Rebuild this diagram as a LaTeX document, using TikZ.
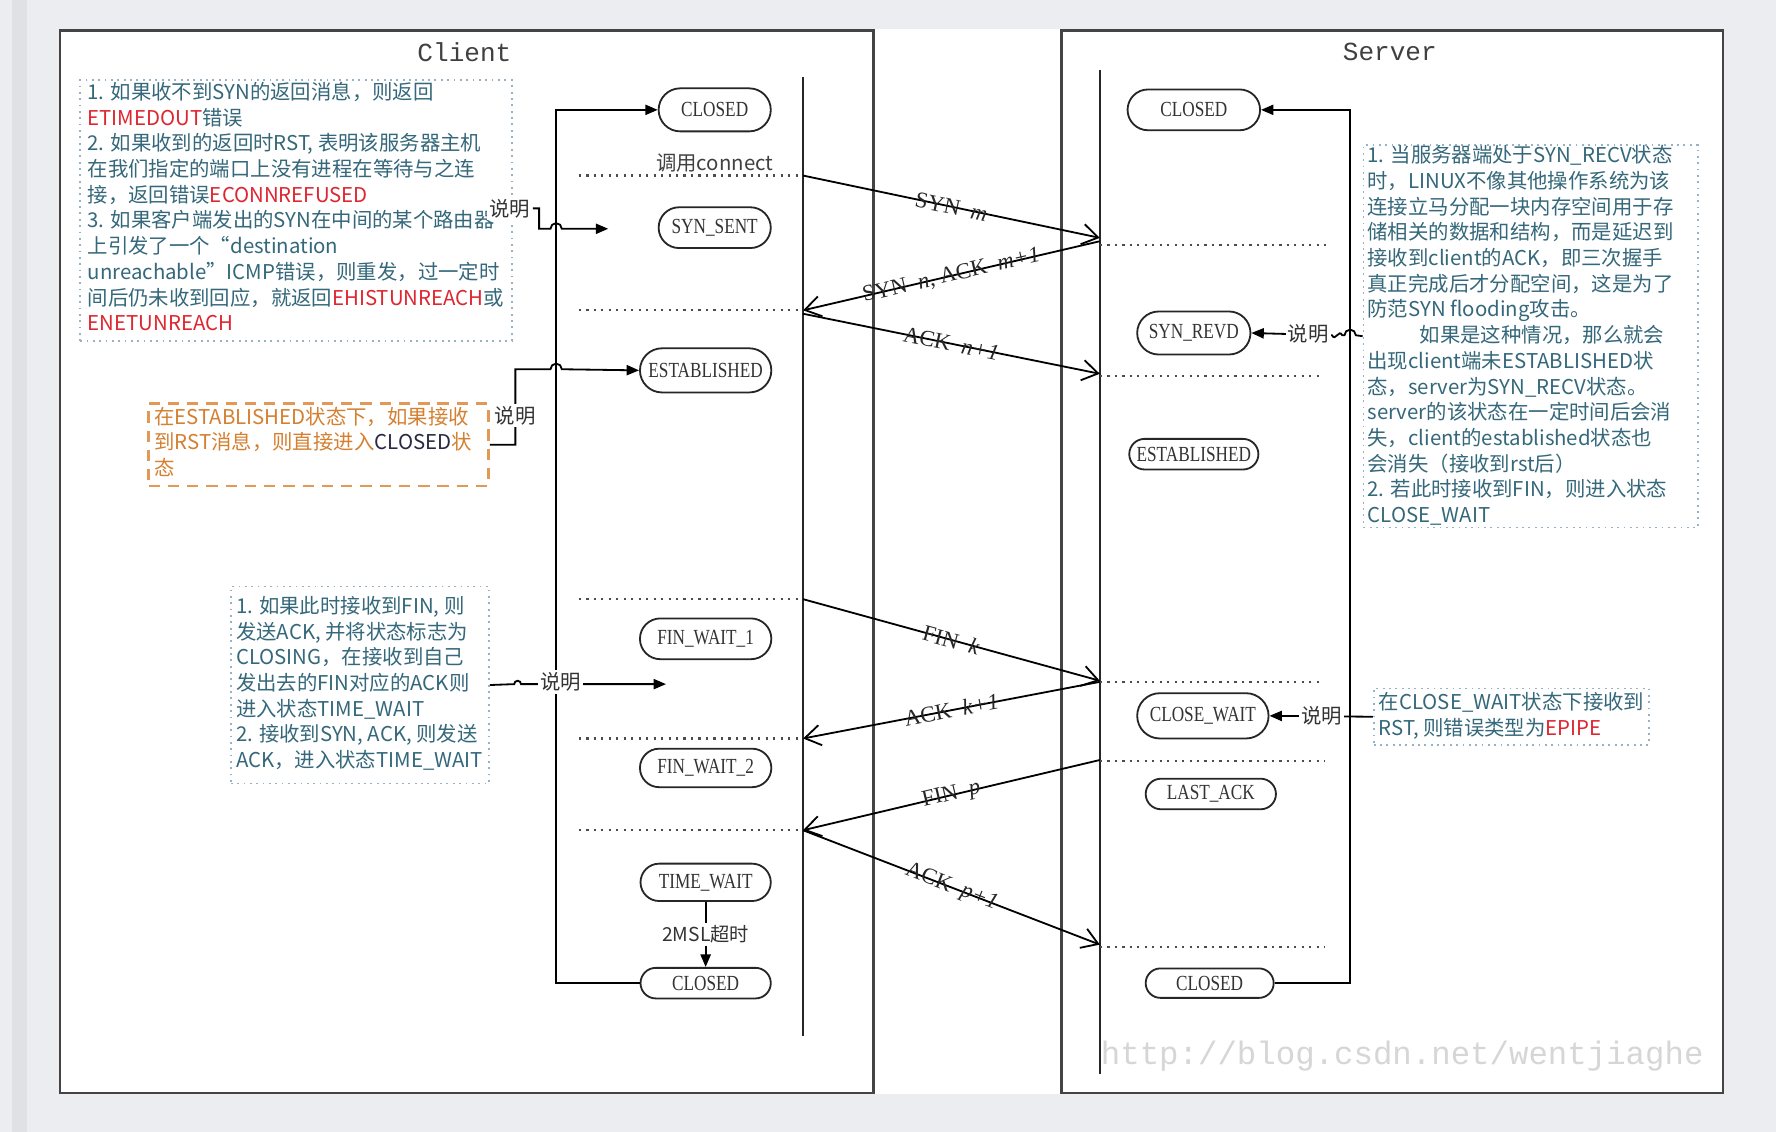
\documentclass[tikz,border=0pt]{standalone}
\usepackage{fontspec}
\setmainfont{Liberation Serif}
\newfontfamily\cjk{Noto Sans CJK SC}
\newfontfamily\stfont{Liberation Serif}[FakeStretch=0.8]
\newfontfamily\ttf{Liberation Mono}
\usetikzlibrary{arrows.meta,shapes.misc}
\definecolor{bg}{RGB}{236,237,241}
\definecolor{strip}{RGB}{224,225,229}
\definecolor{frame}{RGB}{68,68,68}
\definecolor{notetxt}{RGB}{52,104,122}
\definecolor{notered}{RGB}{222,38,48}
\definecolor{noteline}{RGB}{150,178,196}
\definecolor{orangetxt}{RGB}{212,128,48}
\definecolor{orangeline}{RGB}{226,152,86}
\definecolor{navy}{RGB}{40,40,64}
\definecolor{wm}{RGB}{214,214,214}
\tikzset{
  state/.style={rounded rectangle, draw=black!85, line width=0.8pt, inner sep=0pt,
    font=\stfont\fontsize{9.5}{11}\selectfont, text=black!80},
  msg/.style={line width=0.8pt, -{Straight Barb[length=7pt,width=9pt,line width=0.8pt]}},
  conn/.style={line width=0.8pt, -{Triangle[length=5.5pt,width=4.5pt]}},
  dotl/.style={line width=1pt, dash pattern=on 1pt off 2.3pt, black!70},
  notebox/.style={draw=noteline, line width=0.8pt, dash pattern=on 0.8pt off 2pt, inner sep=0pt, anchor=north west},
  notetext/.style={anchor=north west, inner sep=0pt, align=left, text=notetxt, font=\cjk\fontsize{9}{11.35}\selectfont},
  smm/.style={font=\cjk\fontsize{9}{10}\selectfont, text=black!80, fill=white, inner sep=1pt},
  lbl/.style={sloped, font=\fontsize{10}{12}\selectfont, inner sep=0pt, text=black!85},
  tline/.style={line width=0.9pt, black!85},
  frm/.style={draw=frame, line width=1.1pt}
}
\begin{document}
\begin{tikzpicture}[x=0.5pt,y=-0.5pt]
\useasboundingbox (0,0) rectangle (1568,999);
% background
\fill[bg] (0,0) rectangle (1568,999);
\fill[strip] (11,0) rectangle (24,999);
\fill[white] (53,26) rectangle (1521,966);
\draw[frm] (53,27) rectangle (771,965);
\draw[frm] (937,27) rectangle (1521,965);
\node[font=\ttf\fontsize{11.5}{12}\selectfont, text=black!75] (tc) at (410,46) {Client};
\node[font=\ttf\fontsize{11.5}{12}\selectfont, text=black!75] (ts) at (1227,46) {Server};

% watermark
\node[font=\ttf\fontsize{14.3}{15}\selectfont, text=wm] (wmk) at (1238,932) {http://blog.csdn.net/wentjiaghe};

% timelines
\coordinate (ctop) at (709,68); \coordinate (cbot) at (709,915);
\coordinate (stop) at (971,62); \coordinate (sbot) at (971,948);
\draw[tline] (ctop) -- (cbot);
\draw[tline] (stop) -- (sbot);

% client states
\node[state, minimum width=49.5pt, minimum height=19pt] (cClosed) at (631,97) {CLOSED};
\node[state, minimum width=49.5pt, minimum height=18pt] (cSynSent) at (631,201) {SYN\_SENT};
\node[state, minimum width=58pt, minimum height=19.5pt] (cEst) at (623,327) {ESTABLISHED};
\node[state, minimum width=58pt, minimum height=18pt] (cFw1) at (623,564) {FIN\_WAIT\_1};
\node[state, minimum width=58pt, minimum height=17pt] (cFw2) at (623,678) {FIN\_WAIT\_2};
\node[state, minimum width=57.5pt, minimum height=16.5pt] (cTw) at (623,779) {TIME\_WAIT};
\node[state, minimum width=57.5pt, minimum height=13.5pt] (cClosed2) at (623,868) {CLOSED};

% server states
\node[state, minimum width=58.5pt, minimum height=18pt] (sClosed) at (1054,97) {CLOSED};
\node[state, minimum width=50pt, minimum height=19pt] (sSynRevd) at (1054,294) {SYN\_REVD};
\node[state, minimum width=57pt, minimum height=13.5pt] (sEst) at (1054,401) {ESTABLISHED};
\node[state, minimum width=58pt, minimum height=20pt] (sCloseWait) at (1062,632) {CLOSE\_WAIT};
\node[state, minimum width=57.5pt, minimum height=13.5pt] (sLastAck) at (1069,701) {LAST\_ACK};
\node[state, minimum width=56.5pt, minimum height=13pt] (sClosed2) at (1068,868) {CLOSED};

% loops
\coordinate (cLoopB) at (491,868); \coordinate (cLoopT) at (491,97);
\draw[conn] (cClosed2.west) -- (cLoopB) -- (cLoopT) -- (cClosed.west);
\coordinate (sLoopB) at (1192,868); \coordinate (sLoopT) at (1192,97);
\draw[conn] (sClosed2.east) -- (sLoopB) -- (sLoopT) -- (sClosed.east);

% 2MSL
\draw[conn] (cTw.south) -- node[fill=white, inner sep=1pt, font=\cjk\fontsize{8.5}{10}\selectfont, text=black!80] (msl) {2MSL超时} (cClosed2.north);

% dotted lines
\coordinate (d1a) at (511,155); \coordinate (d1b) at (709,155);
\coordinate (d2a) at (511,274); \coordinate (d2b) at (709,274);
\coordinate (d3a) at (511,529); \coordinate (d3b) at (709,529);
\coordinate (d4a) at (511,652); \coordinate (d4b) at (709,652);
\coordinate (d5a) at (511,733); \coordinate (d5b) at (709,733);
\coordinate (e1a) at (971,216); \coordinate (e1b) at (1172,216);
\coordinate (e2a) at (971,332); \coordinate (e2b) at (1167,332);
\coordinate (e3a) at (971,602); \coordinate (e3b) at (1166,602);
\coordinate (e4a) at (971,672); \coordinate (e4b) at (1170,672);
\coordinate (e5a) at (971,836); \coordinate (e5b) at (1170,836);
\foreach \a/\b in {d1a/d1b,d2a/d2b,d3a/d3b,d4a/d4b,d5a/d5b,e1a/e1b,e2a/e2b,e3a/e3b,e4a/e4b,e5a/e5b}
  \draw[dotl] (\a) -- (\b);
\node[font=\cjk\fontsize{9}{10}\selectfont, text=black!75, inner sep=0pt] (connect) at (631,144) {调用connect};

% messages
\coordinate (m1s) at (709,155); \coordinate (m1e) at (971,210);
\coordinate (m2s) at (971,213); \coordinate (m2e) at (709,274);
\coordinate (m3s) at (709,277); \coordinate (m3e) at (971,330);
\coordinate (m4s) at (709,529); \coordinate (m4e) at (971,601);
\coordinate (m5s) at (971,602); \coordinate (m5e) at (709,652);
\coordinate (m6s) at (971,671); \coordinate (m6e) at (709,733);
\coordinate (m7s) at (709,733); \coordinate (m7e) at (971,834);
\draw[msg] (m1s) -- node[lbl] {SYN\ \ \textit{m}} (m1e);
\draw[msg] (m2s) -- node[lbl] {SYN\ \ \textit{n}, ACK\ \ \textit{m+1}} (m2e);
\draw[msg] (m3s) -- node[lbl] {ACK\ \ \textit{n+1}} (m3e);
\draw[msg] (m4s) -- node[lbl] {FIN\ \ \textit{k}} (m4e);
\draw[msg] (m5s) -- node[lbl] {ACK\ \ \textit{k+1}} (m5e);
\draw[msg] (m6s) -- node[lbl] {FIN\ \ \textit{p}} (m6e);
\draw[msg] (m7s) -- node[lbl] {ACK\ \ \textit{p+1}} (m7e);

% note 1
\node[notebox, minimum width=190.5pt, minimum height=115pt] (n1) at (70,70) {};
\node[notetext] (n1t) at (77,72) {1. 如果收不到SYN的返回消息，则返回\\
\textcolor{notered}{ETIMEDOUT}错误\\
2. 如果收到的返回时RST, 表明该服务器主机\\
在我们指定的端口上没有进程在等待与之连\\
接，返回错误\textcolor{notered}{ECONNREFUSED}\\
3. 如果客户端发出的SYN在中间的某个路由器\\
上引发了一个“destination\\
unreachable”ICMP错误，则重发，过一定时\\
间后仍未收到回应，就返回\textcolor{notered}{EHISTUNREACH}或\\
\textcolor{notered}{ENETUNREACH}};
\node[smm] (l1) at (450,184) {说明};
\coordinate (a1) at (537,202);
\draw[conn] (l1.east) -| (476,202) -- (486,202) arc[start angle=180,end angle=360,radius=5] -- (a1);

% note 2 (orange)
\node[notebox, draw=orangeline, line width=1.2pt, dash pattern=on 5pt off 3.5pt, minimum width=150pt, minimum height=36.5pt] (n2) at (130,355) {};
\node[notetext, text=orangetxt] (n2t) at (136,359) {在ESTABLISHED状态下，如果接收\\
到RST消息，则直接进入\textcolor{navy}{CLOSED}状\\
态};
\draw[conn] (n2.east) -| (455,326) -- (486,326) arc[start angle=180,end angle=360,radius=5] -- (cEst.west);
\node[smm] (l2) at (455,367) {说明};

% note 3
\node[notebox, minimum width=114pt, minimum height=87pt] (n3) at (203,517) {};
\node[notetext] (n3t) at (208,526) {1. 如果此时接收到FIN, 则\\
发送ACK, 并将状态标志为\\
CLOSING，在接收到自己\\
发出去的FIN对应的ACK则\\
进入状态TIME\_WAIT\\
2. 接收到SYN, ACK, 则发送\\
ACK，进入状态TIME\_WAIT};
\coordinate (a3) at (588,604);
\draw[conn] (n3.east) -- (454,604) arc[start angle=180,end angle=360,radius=3] -- (a3);
\node[smm] (l3) at (495,602) {说明};

% note 4 (server)
\node[notebox, minimum width=147.5pt, minimum height=169pt] (n4) at (1203,127) {};
\node[notetext] (n4t) at (1207,128) {1. 当服务器端处于SYN\_RECV状态\\
时，LINUX不像其他操作系统为该\\
连接立马分配一块内存空间用于存\\
储相关的数据和结构，而是延迟到\\
接收到client的ACK，即三次握手\\
真正完成后才分配空间，这是为了\\
防范SYN flooding攻击。\\
\hspace*{23pt}如果是这种情况，那么就会\\
出现client端未ESTABLISHED状\\
态，server为SYN\_RECV状态。\\
server的该状态在一定时间后会消\\
失，client的established状态也\\
会消失（接收到rst后）\\
2. 若此时接收到FIN，则进入状态\\
CLOSE\_WAIT};
\draw[conn] (n4.west) -- (1197,296) arc[start angle=0,end angle=-180,radius=5] -- (1185,296)
  .. controls (1182,290) and (1179,302) .. (1176,296) -- (sSynRevd.east);
\node[smm] (l4) at (1155,295) {说明};

% note 5
\node[notebox, minimum width=121.5pt, minimum height=25pt] (n5) at (1212,607) {};
\node[notetext] (n5t) at (1217,611) {在CLOSE\_WAIT状态下接收到\\
RST, 则错误类型为\textcolor{notered}{EPIPE}};
\draw[conn] (n5.west) -- (sCloseWait.east);
\node[smm] (l5) at (1167,632) {说明};
\end{tikzpicture}
\end{document}
